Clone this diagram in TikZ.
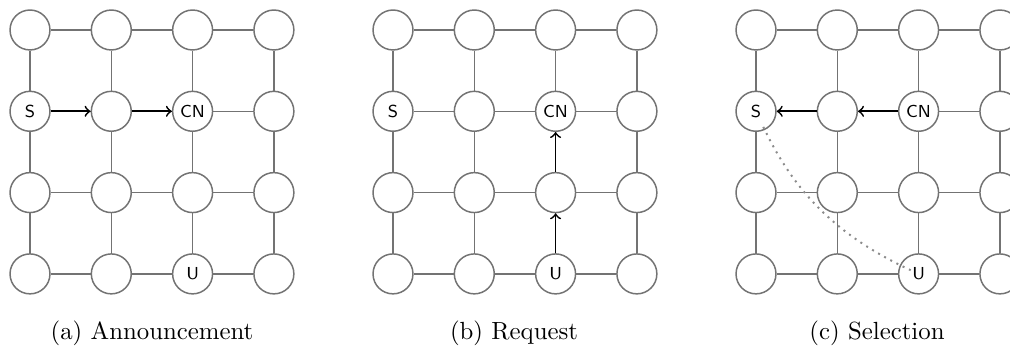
\documentclass[tikz,border=0pt]{standalone}
\usetikzlibrary{arrows}
\newcommand{\gridlabel}[1]{\ifnum#1=21 S\fi\ifnum#1=23 CN\fi\ifnum#1=43 U\fi}
\begin{document}
\begin{tikzpicture}[x=0.403pt,y=-0.403pt,>=to,
                    main node/.style={circle,draw=black!55,line width=0.6pt,minimum size=16.1pt,
                                      inner sep=0pt,font=\sffamily\fontsize{7}{8}\selectfont},
                    grid edge/.style={draw=black!55,line width=0.6pt},
                    msg/.style={->,draw=black,line width=0.7pt},
                    caption/.style={anchor=base,font=\normalsize}]
  \useasboundingbox (0,0) rectangle (1010,350);

  % three 4x4 grids
  \foreach \g/\xo in {a/30,b/393,c/756}{
    \foreach \r in {1,...,4}
      \foreach \c in {1,...,4}
        \node[main node] (\g\r\c) at (\xo+81.3*\c-81.3, 81.3*\r-51.3) {\gridlabel{\r\c}};
    \foreach \r in {1,...,4}
      \foreach \c in {1,...,3}{
        \pgfmathtruncatemacro{\cc}{\c+1}
        \draw[grid edge] (\g\r\c) -- (\g\r\cc);
        \draw[grid edge] (\g\c\r) -- (\g\cc\r);
      }
  }

  % (a) announcement
  \draw[msg] (a21) -- (a22);
  \draw[msg] (a22) -- (a23);
  % (b) request
  \draw[msg] (b43) -- (b33);
  \draw[msg] (b33) -- (b23);
  % (c) selection
  \draw[msg] (c23) -- (c22);
  \draw[msg] (c22) -- (c21);
  \draw[black!45,dotted,line width=0.8pt,shorten <=3.5pt,shorten >=5.5pt]
    (c43.center) to[out=155,in=-65] (c21.center);

  \node[caption] (capa) at (152,340) {(a) Announcement};
  \node[caption] (capb) at (514,340) {(b) Request};
  \node[caption] (capc) at (877,340) {(c) Selection};
\end{tikzpicture}
\end{document}
